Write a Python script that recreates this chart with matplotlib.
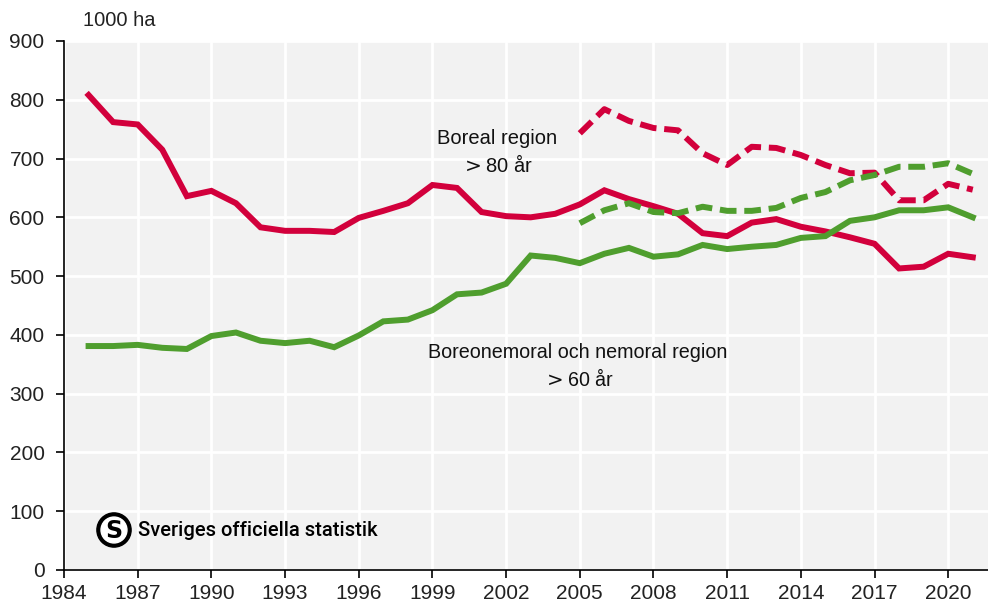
import matplotlib
matplotlib.use("Agg")
import matplotlib.pyplot as plt
from matplotlib.patches import Circle

# Areal (1000 ha) per år
years = list(range(1985, 2022))
years_new = list(range(2005, 2022))

boreal_old = [808, 762, 758, 715, 636, 645, 624, 583, 577, 577,
              575, 599, 611, 624, 655, 650, 609, 602, 600, 606,
              622, 646, 631, 619, 606, 573, 568, 591, 597, 584,
              576, 566, 555, 513, 516, 538, 532]
boreal_new = [743, 784, 764, 752, 748, 709, 689, 720, 718, 706,
              689, 675, 676, 629, 629, 657, 647]

nemoral_old = [381, 381, 383, 378, 376, 398, 404, 390, 386, 390,
               379, 399, 423, 426, 442, 469, 472, 487, 535, 531,
               522, 538, 548, 533, 537, 553, 546, 550, 553, 565,
               568, 594, 600, 612, 612, 617, 600]
nemoral_new = [590, 612, 624, 609, 607, 618, 611, 611, 616, 633,
               643, 663, 672, 686, 686, 692, 674]

xticks = list(range(1984, 2022, 3))
yticks = list(range(0, 901, 100))

red = "#d2003c"
green = "#4f9e2e"

plt.rcParams['font.family'] = ['Liberation Sans', 'DejaVu Sans']

fig = plt.figure(figsize=(9.88, 6.02), dpi=100)
ax = fig.add_axes([0.0648, 0.0532, 0.9352, 0.8787])
ax.set_facecolor("#f2f2f2")

lw = 4.3
ax.plot(years, boreal_old, color=red, lw=lw, solid_joinstyle='miter', zorder=3)
ax.plot(years, nemoral_old, color=green, lw=lw, solid_joinstyle='miter', zorder=3)
ax.plot(years_new, boreal_new, color=red, lw=lw, dashes=(2.8, 1.3), zorder=3)
ax.plot(years_new, nemoral_new, color=green, lw=lw, dashes=(2.8, 1.3), zorder=3)

ax.set_xlim(1984, 2021.62)
ax.set_ylim(0, 900)
ax.set_xticks(xticks)
ax.set_yticks(yticks)
ax.grid(True, color="white", lw=2)
ax.set_axisbelow(True)
for s in ["top", "right"]:
    ax.spines[s].set_visible(False)
for s in ["left", "bottom"]:
    ax.spines[s].set_color("black")
    ax.spines[s].set_linewidth(1.2)
ax.tick_params(direction="out", length=6, width=1.2, color="black",
               labelsize=15, labelcolor="#222222")
ax.tick_params(axis="y", pad=8)
ax.tick_params(axis="x", pad=4)

fig.text(83 / 988, 1 - 20 / 602, "1000 ha", fontsize=14.5, color="#222222",
         ha="left", va="center")

ax.text(2001.63, 710, "Boreal region\n$>$80 år", fontsize=14.5, color="#111111",
        ha="center", va="center", linespacing=1.3)
ax.text(2004.93, 346, "Boreonemoral och nemoral region\n$>$60 år", fontsize=14.2,
        color="#111111", ha="center", va="center", linespacing=1.35)

# SOS-logga
cx, cy = 114 / 988, 1 - 530 / 602
logo_ax = fig.add_axes([cx - 18 / 988, cy - 18 / 602, 36 / 988, 36 / 602])
logo_ax.set_xlim(-1, 1)
logo_ax.set_ylim(-1, 1)
logo_ax.set_aspect("equal")
logo_ax.axis("off")
logo_ax.add_patch(Circle((0, 0), 0.95, color="black"))
logo_ax.add_patch(Circle((0, 0), 0.72, color="white"))
logo_ax.text(0, -0.04, "S", color="black", fontsize=17, fontweight="bold",
             ha="center", va="center", family=['DejaVu Sans'])
fig.text(138 / 988, 1 - 531 / 602, "Sveriges officiella statistik", fontsize=14.5,
         fontweight="medium", family=['Roboto', 'DejaVu Sans'],
         color="black", ha="left", va="center")

fig.savefig("out.png", dpi=100)
